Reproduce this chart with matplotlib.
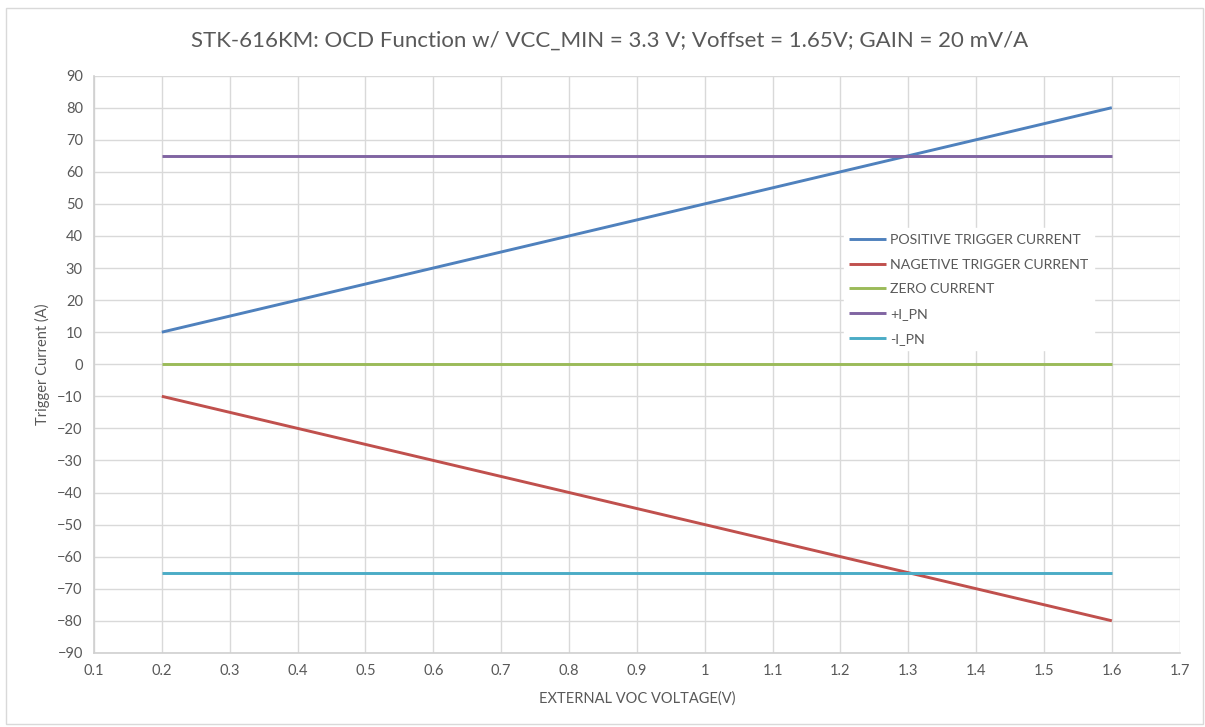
import matplotlib
matplotlib.use("Agg")
import matplotlib.pyplot as plt
from matplotlib.patches import Rectangle

# data
voltage = [0.2, 0.3, 0.4, 0.5, 0.6, 0.7, 0.8, 0.9, 1.0, 1.1, 1.2, 1.3, 1.4, 1.5, 1.6]
positive_trigger = [10, 15, 20, 25, 30, 35, 40, 45, 50, 55, 60, 65, 70, 75, 80]
negative_trigger = [-10, -15, -20, -25, -30, -35, -40, -45, -50, -55, -60, -65, -70, -75, -80]
zero_current = [0] * len(voltage)
plus_i_pn = [65] * len(voltage)
minus_i_pn = [-65] * len(voltage)

series_names = ["POSITIVE TRIGGER CURRENT", "NAGETIVE TRIGGER CURRENT", "ZERO CURRENT", "+I_PN", "-I_PN"]
colors = ["#4F81BD", "#C0504D", "#9BBB59", "#8064A2", "#4BACC6"]

plt.rcParams['font.family'] = ['Lato', 'DejaVu Sans']
text_color = "#595959"

fig = plt.figure(figsize=(12.05, 7.27), dpi=100)
ax = fig.add_axes([0.078, 0.102, 0.901, 0.794])

# outer chart border like the spreadsheet frame
fig.patches.append(Rectangle((0.005, 0.004), 0.993, 0.985, transform=fig.transFigure,
                             fill=False, edgecolor="#d9d9d9", lw=1))

all_series = [positive_trigger, negative_trigger, zero_current, plus_i_pn, minus_i_pn]
for vals, name, c in zip(all_series, series_names, colors):
    ax.plot(voltage, vals, color=c, lw=2.1, label=name, solid_capstyle="butt")

ax.set_xlim(0.1, 1.7)
ax.set_ylim(-90, 90)
ax.set_xticks([round(0.1 + 0.1 * i, 1) for i in range(17)])
ax.set_xticklabels(["1" if abs(t - 1) < 1e-9 else f"{t:g}" for t in ax.get_xticks()])
ax.set_yticks(range(-90, 91, 10))

ax.grid(True, color="#d9d9d9", lw=1)
ax.set_axisbelow(True)
for side in ["top", "right"]:
    ax.spines[side].set_visible(False)
for side in ["left", "bottom"]:
    ax.spines[side].set_color("#d0d0d0")
    ax.spines[side].set_linewidth(1.2)
ax.tick_params(length=0, labelsize=10.5, colors=text_color, pad=8)

fig.suptitle("STK-616KM: OCD Function w/ VCC_MIN = 3.3 V; Voffset = 1.65V; GAIN = 20 mV/A",
             fontsize=16, color=text_color, x=0.506, y=0.958)
ax.set_xlabel("EXTERNAL VOC VOLTAGE(V)", fontsize=10.5, color=text_color, labelpad=10)
ax.set_ylabel("Trigger Current (A)", fontsize=10.5, color=text_color, labelpad=5)

leg = ax.legend(loc="upper left", bbox_to_anchor=(0.684, 0.748), frameon=True, fancybox=False,
                framealpha=1, edgecolor="white", fontsize=10.2, handlelength=2.6,
                handletextpad=0.3, labelspacing=0.9, borderpad=0.4)
for t in leg.get_texts():
    t.set_color(text_color)

fig.savefig("out.png", dpi=100)
